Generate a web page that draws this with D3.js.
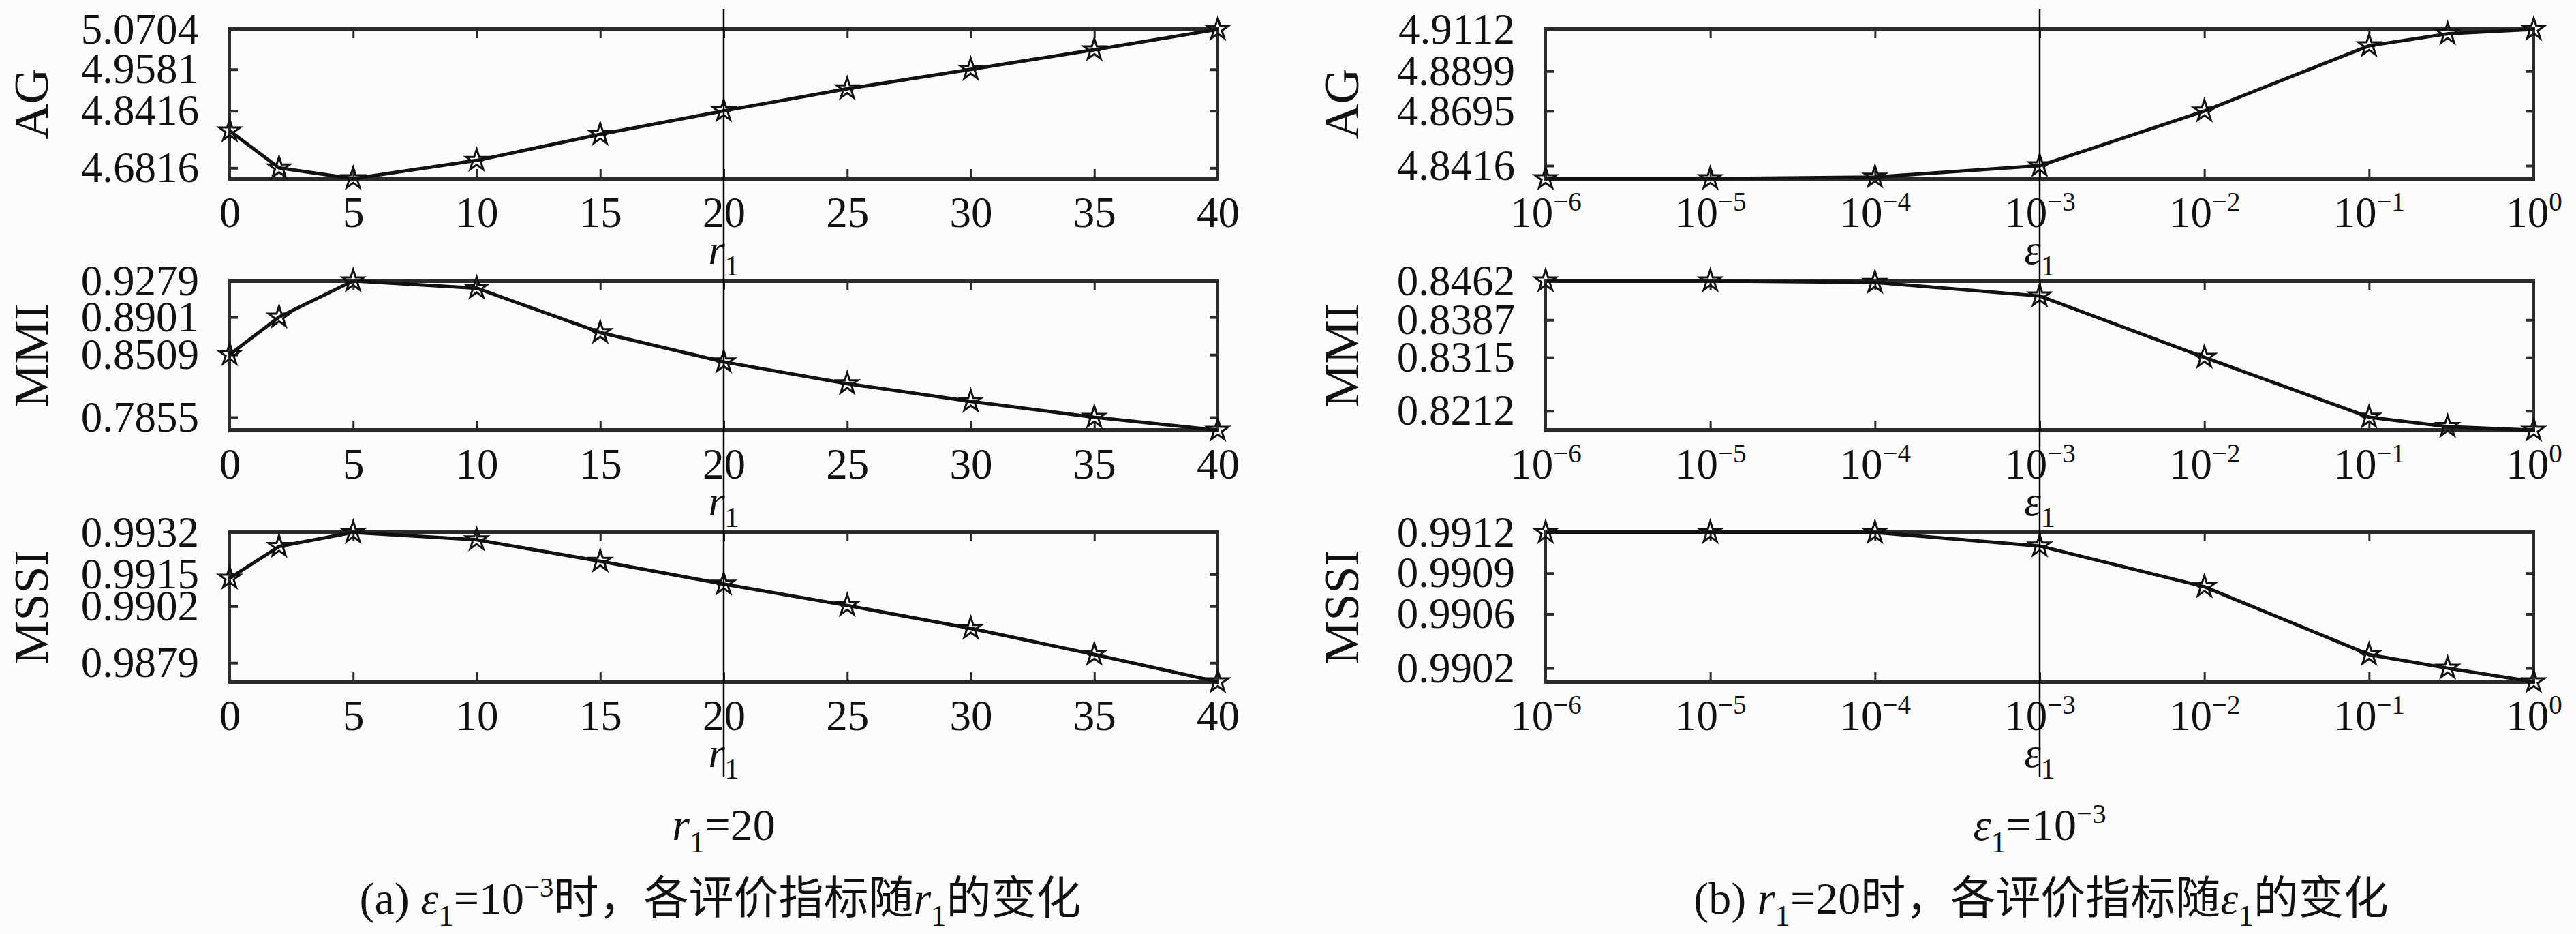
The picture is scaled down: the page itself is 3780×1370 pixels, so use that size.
<!DOCTYPE html>
<html>
<head>
<meta charset="utf-8">
<script src="https://cdn.jsdelivr.net/npm/d3@7"></script>
<style>
  html, body { margin: 0; padding: 0; background: #fcfcfc; }
  svg { display: block; }
</style>
</head>
<body>
<svg id="chart" width="3780" height="1370"></svg>
<script>
// ---------------- data ----------------
const rValues   = [0, 2, 5, 10, 15, 20, 25, 30, 35, 40];
const agR       = [4.7855, 4.6816, 4.6516, 4.7026, 4.7759, 4.8416, 4.9034, 4.9581, 5.0130, 5.0704];
const mmiR      = [0.8509, 0.8901, 0.9279, 0.9203, 0.8740, 0.8433, 0.8206, 0.8021, 0.7855, 0.7720];
const mssiR     = [0.99134, 0.99263, 0.99320, 0.99290, 0.99203, 0.99110, 0.99023, 0.98930, 0.98824, 0.98713];

const epsValues = [1e-6, 1e-5, 1e-4, 1e-3, 1e-2, 1e-1, 0.3, 1];
const agE       = [4.8350, 4.8350, 4.8358, 4.8416, 4.8695, 4.9028, 4.9089, 4.9112];
const mmiE      = [0.8462, 0.8462, 0.8459, 0.8433, 0.8315, 0.8200, 0.8182, 0.8175];
const mssiE     = [0.99120, 0.99120, 0.99120, 0.99110, 0.99080, 0.99030, 0.99020, 0.99010];

const rTicks    = [0, 5, 10, 15, 20, 25, 30, 35, 40];
const epsTicks  = [1e-6, 1e-5, 1e-4, 1e-3, 1e-2, 1e-1, 1];

const agRTicks   = [4.6816, 4.8416, 4.9581, 5.0704];
const mmiRTicks  = [0.7855, 0.8509, 0.8901, 0.9279];
const mssiRTicks = [0.9879, 0.9902, 0.9915, 0.9932];
const agETicks   = [4.8416, 4.8695, 4.8899, 4.9112];
const mmiETicks  = [0.8212, 0.8315, 0.8387, 0.8462];
const mssiETicks = [0.9902, 0.9906, 0.9909, 0.9912];

const metricNames = ["AG", "MMI", "MSSI"];
const refR = 20;
const refEps = 1e-3;

// ---------------- layout ----------------
const svg = d3.select("#chart");
const rowTops = [43, 412, 781];
const plotH = 219;
const TXT = "'Liberation Serif', 'DejaVu Serif', serif";
const CJK = "'Liberation Serif', 'Noto Sans CJK SC', serif";
const INK = "#2b2b2b";
const TICKFS = 63;

const xR = d3.scaleLinear().domain([0, 40]).range([337, 1787]);
const xE = d3.scaleLog().domain([1e-6, 1]).range([2268, 3718]);

const leftRows = [
  {vals: agR, ticks: agRTicks},
  {vals: mmiR, ticks: mmiRTicks},
  {vals: mssiR, ticks: mssiRTicks}
];
const rightRows = [
  {vals: agE, ticks: agETicks},
  {vals: mmiE, ticks: mmiETicks},
  {vals: mssiE, ticks: mssiETicks}
];

// rich text helper: segments [text, kind] kind: n (normal), i (italic), sub, sup
function rich(sel, segs, size) {
  let off = 0;
  segs.forEach(([t, k]) => {
    let target = 0, fs = size, italic = false;
    if (k === "i") italic = true;
    if (k === "sub") { target = size * 0.28; fs = size * 0.68; }
    if (k === "sup") { target = -size * 0.38; fs = size * 0.62; }
    sel.append("tspan")
      .attr("dy", target - off)
      .attr("font-size", fs)
      .attr("font-style", italic ? "italic" : "normal")
      .text(t);
    off = target;
  });
}

function drawPlot(x, xTickVals, isLog, xVals, row, top, ylabel, ylabelX, xTitleSegs) {
  const x0 = x.range()[0], x1 = x.range()[1];
  const y = d3.scaleLinear().domain(d3.extent(row.vals)).range([top + plotH, top]);
  const g = svg.append("g");

  // box
  g.append("line").attr("x1", x0).attr("x2", x0).attr("y1", top).attr("y2", top + plotH)
    .attr("stroke", INK).attr("stroke-width", 4);
  g.append("line").attr("x1", x1).attr("x2", x1).attr("y1", top).attr("y2", top + plotH)
    .attr("stroke", INK).attr("stroke-width", 4);
  g.append("line").attr("x1", x0 - 2).attr("x2", x1 + 2).attr("y1", top).attr("y2", top)
    .attr("stroke", INK).attr("stroke-width", 6);
  g.append("line").attr("x1", x0 - 2).attr("x2", x1 + 2).attr("y1", top + plotH).attr("y2", top + plotH)
    .attr("stroke", INK).attr("stroke-width", 6);

  // bottom axis (inward ticks + labels)
  const axB = d3.axisBottom(x).tickValues(xTickVals).tickSizeInner(-14).tickSizeOuter(0).tickPadding(26);
  if (!isLog) axB.tickFormat(d3.format("d"));
  else axB.tickFormat(() => "");
  const gb = g.append("g").attr("transform", `translate(0,${top + plotH})`).call(axB);
  gb.select(".domain").remove();
  gb.selectAll(".tick line").attr("stroke", INK).attr("stroke-width", 3);
  gb.selectAll(".tick text").attr("font-family", TXT).attr("font-size", TICKFS).attr("fill", "#111");
  if (isLog) {
    gb.selectAll(".tick text").each(function(d) {
      const t = d3.select(this).text(null).attr("dy", null).attr("y", 26 + 0.71 * TICKFS);
      const e = Math.round(Math.log10(d));
      rich(t, [["10", "n"], [e === 0 ? "0" : "\u2212" + Math.abs(e), "sup"]], TICKFS);
    });
  }

  // top axis ticks
  const axT = d3.axisTop(x).tickValues(xTickVals).tickSizeInner(-13).tickSizeOuter(0).tickFormat(() => "");
  const gt = g.append("g").attr("transform", `translate(0,${top})`).call(axT);
  gt.select(".domain").remove();
  gt.selectAll(".tick line").attr("stroke", INK).attr("stroke-width", 3);

  // left axis
  const axL = d3.axisLeft(y).tickValues(row.ticks).tickSizeInner(-12).tickSizeOuter(0)
    .tickPadding(45).tickFormat(d3.format(".4f"));
  const gl = g.append("g").attr("transform", `translate(${x0},0)`).call(axL);
  gl.select(".domain").remove();
  gl.selectAll(".tick line").attr("stroke", INK).attr("stroke-width", 4);
  gl.selectAll(".tick text").attr("font-family", TXT).attr("font-size", TICKFS).attr("fill", "#111");

  // right axis
  const axRt = d3.axisRight(y).tickValues(row.ticks).tickSizeInner(-12).tickSizeOuter(0).tickFormat(() => "");
  const gr = g.append("g").attr("transform", `translate(${x1},0)`).call(axRt);
  gr.select(".domain").remove();
  gr.selectAll(".tick line").attr("stroke", INK).attr("stroke-width", 4);

  // line + markers
  const pts = xVals.map((xv, i) => [xv, row.vals[i]]);
  const line = d3.line().x(d => x(d[0])).y(d => y(d[1]));
  g.append("path").datum(pts).attr("d", line)
    .attr("fill", "none").attr("stroke", "#111").attr("stroke-width", 5).attr("stroke-linejoin", "round");
  const star = d3.symbol().type(d3.symbolStar).size(300);
  g.selectAll(".mk").data(pts).join("path")
    .attr("transform", d => `translate(${x(d[0])},${y(d[1])})`)
    .attr("d", star).attr("fill", "none").attr("stroke", "#111").attr("stroke-width", 3);

  // y label (rotated)
  g.append("text")
    .attr("transform", `translate(${ylabelX},${top + plotH / 2}) rotate(-90)`)
    .attr("text-anchor", "middle").attr("font-family", TXT).attr("font-size", 72).attr("fill", "#111")
    .text(ylabel);

  // x title
  const xt = g.append("text").attr("x", (x0 + x1) / 2).attr("y", top + plotH + 125)
    .attr("text-anchor", "middle").attr("font-family", TXT).attr("fill", "#111");
  rich(xt, xTitleSegs, 62);
}

const rTitle = [["r", "i"], ["1", "sub"]];
const eTitle = [["\u03b5", "i"], ["1", "sub"]];

for (let i = 0; i < 3; i++) {
  drawPlot(xR, rTicks, false, rValues, leftRows[i], rowTops[i], metricNames[i], 70, rTitle);
  drawPlot(xE, epsTicks, true, epsValues, rightRows[i], rowTops[i], metricNames[i], 1993, eTitle);
}

// vertical reference lines
svg.append("line").attr("x1", xR(refR)).attr("x2", xR(refR)).attr("y1", 13).attr("y2", 1140)
  .attr("stroke", "#000").attr("stroke-width", 2.5);
svg.append("line").attr("x1", xE(refEps)).attr("x2", xE(refEps)).attr("y1", 13).attr("y2", 1140)
  .attr("stroke", "#000").attr("stroke-width", 2.5);

// annotations under panels
const annL = svg.append("text").attr("x", xR(refR)).attr("y", 1232).attr("text-anchor", "middle")
  .attr("font-family", TXT).attr("fill", "#111");
rich(annL, [["r", "i"], ["1", "sub"], ["=20", "n"]], 66);

const annR = svg.append("text").attr("x", xE(refEps)).attr("y", 1232).attr("text-anchor", "middle")
  .attr("font-family", TXT).attr("fill", "#111");
rich(annR, [["\u03b5", "i"], ["1", "sub"], ["=10", "n"], ["\u22123", "sup"]], 66);

// captions
const capL = svg.append("text").attr("x", 1057).attr("y", 1340).attr("text-anchor", "middle")
  .attr("font-family", CJK).attr("fill", "#111");
rich(capL, [["(a) ", "n"], ["\u03b5", "i"], ["1", "sub"], ["=10", "n"], ["\u22123", "sup"],
  ["时，各评价指标随", "n"], ["r", "i"], ["1", "sub"], ["的变化", "n"]], 66);

const capR = svg.append("text").attr("x", 2995).attr("y", 1340).attr("text-anchor", "middle")
  .attr("font-family", CJK).attr("fill", "#111");
rich(capR, [["(b) ", "n"], ["r", "i"], ["1", "sub"], ["=20时，各评价指标随", "n"],
  ["\u03b5", "i"], ["1", "sub"], ["的变化", "n"]], 66);
</script>
</body>
</html>
